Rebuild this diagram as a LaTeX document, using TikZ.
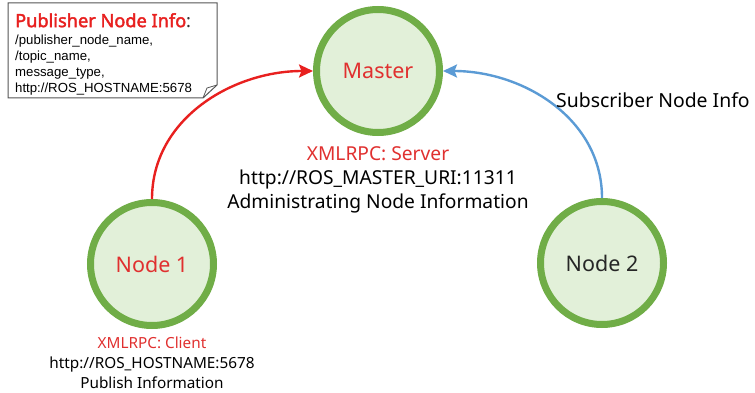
\documentclass[tikz,border=0pt]{standalone}
\usepackage{fontspec}
\setmainfont{Noto Sans}
\newfontfamily\notefont{Liberation Sans}
\newfontfamily\titlefont[FakeBold=2.2]{Noto Sans}
\usetikzlibrary{arrows.meta}
\definecolor{ringgreen}{HTML}{70AD47}
\definecolor{fillgreen}{HTML}{E2F0D9}
\definecolor{pubred}{HTML}{E8201F}
\definecolor{txtred}{HTML}{E0302F}
\definecolor{subblue}{HTML}{5B9BD5}
\definecolor{notegray}{HTML}{555555}
\begin{document}
\begin{tikzpicture}[x=1pt,y=-1pt,
  rosnode/.style={circle, draw=ringgreen, fill=fillgreen, line width=7pt,
    minimum size=123pt, inner sep=0pt, font=\fontsize{21.5}{25}\selectfont},
  infotext/.style={align=center, inner sep=0pt, font=\fontsize{19.2}{24}\selectfont},
  smallinfo/.style={align=center, inner sep=0pt, font=\fontsize{15.3}{20}\selectfont},
  link/.style={line width=2.4pt, -{Stealth[length=14pt,width=13pt,inset=2.5pt]}},
]
\useasboundingbox (0,0) rectangle (755,393);

% ROS nodes
\node[rosnode, text=txtred] (master) at (378,71) {Master};
\node[rosnode, text=txtred] (node1) at (152,264) {Node 1};
\node[rosnode, text=black!85] (node2) at (602,263) {Node 2};

% registration links
\draw[link, pubred] (node1.north) to[out=90, in=180] (master.west);
\draw[link, subblue] (node2.north) to[out=90, in=0] (master.east);

% master description
\node[infotext] (masterinfo) at (378,180)
  {\textcolor{txtred}{XMLRPC: Server}\\ http://ROS\_MASTER\_URI:11311\\ Administrating Node Information};

% node 1 description
\node[smallinfo] (node1info) at (152,363)
  {\textcolor{txtred}{XMLRPC: Client}\\ http://ROS\_HOSTNAME:5678\\ Publish Information};

% subscriber label
\node[inner sep=0pt, anchor=west, font=\fontsize{19.4}{22}\selectfont] (subinfo) at (556,100) {Subscriber Node Info};

% publisher note with folded corner
\draw[notegray, line width=1pt, fill=white] (8,3) -- (217,3) -- (217,85) -- (203,98) -- (8,98) -- cycle;
\draw[notegray, line width=0.8pt] (203,98) -- (207,88) -- (217,85);
\node[anchor=north west, inner sep=0pt, text=pubred, font=\titlefont\fontsize{18.2}{20}\selectfont] (pubtitle) at (15,13)
  {Publisher Node Info\textcolor{black!80}{\normalfont\fontsize{18.2}{20}\selectfont:}};
\node[anchor=north west, align=left, inner sep=0pt, font=\notefont\fontsize{13.2}{16}\selectfont] (pubinfo) at (15,35)
  {/publisher\_node\_name,\\ /topic\_name,\\ message\_type,\\ http://ROS\_HOSTNAME:5678};
\end{tikzpicture}
\end{document}
